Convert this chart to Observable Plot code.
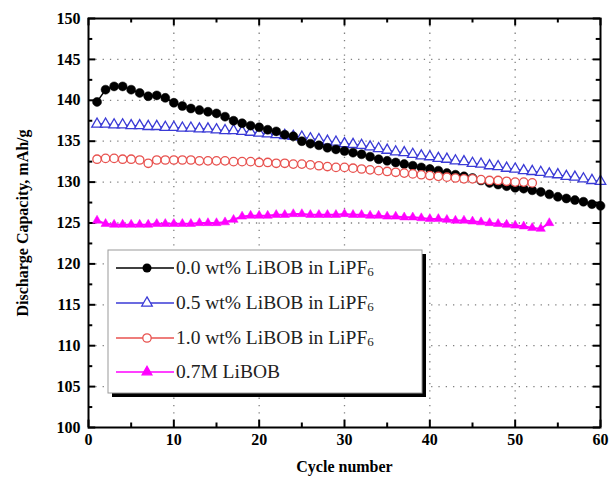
<!DOCTYPE html>
<html>
<head>
<meta charset="utf-8">
<script src="https://cdn.jsdelivr.net/npm/d3@7"></script>
<script src="https://cdn.jsdelivr.net/npm/@observablehq/plot@0.6"></script>
<style>
  html, body { margin: 0; padding: 0; background: white; }
</style>
</head>
<body>
<div id="chart"></div>
<script>
const seriesNames = ["0.0 wt% LiBOB in LiPF", "0.5 wt% LiBOB in LiPF", "1.0 wt% LiBOB in LiPF", "0.7M LiBOB"];
const seriesSub = ["6", "6", "6", ""];

const black00 = [139.8,141.3,141.7,141.7,141.3,140.9,140.5,140.6,140.3,139.7,
  139.3,139.0,138.8,138.6,138.4,138.0,137.5,137.2,136.9,136.7,
  136.4,136.2,135.8,135.6,135.0,134.7,134.5,134.2,134.0,133.8,
  133.6,133.4,133.1,132.8,132.6,132.4,132.2,132.0,131.8,131.6,
  131.4,131.1,130.9,130.7,130.5,130.2,129.9,129.7,129.5,129.3,
  129.2,129.0,128.8,128.5,128.2,128.0,127.8,127.6,127.3,127.1];
const blue05 = [137.1,137.1,137.0,137.0,136.9,136.9,136.8,136.8,136.7,136.7,
  136.6,136.6,136.5,136.5,136.4,136.3,136.3,136.2,136.1,136.0,
  135.9,135.8,135.7,135.6,135.5,135.3,135.2,135.0,134.9,134.7,
  134.6,134.5,134.3,134.1,133.9,133.7,133.6,133.4,133.2,133.1,
  132.9,132.8,132.6,132.5,132.3,132.2,132.0,131.9,131.7,131.6,
  131.4,131.3,131.2,131.0,130.9,130.7,130.6,130.4,130.2,130.1];
const red10 = [132.8,132.9,132.9,132.8,132.8,132.7,132.3,132.7,132.7,132.7,
  132.7,132.7,132.6,132.6,132.6,132.6,132.5,132.5,132.5,132.4,
  132.4,132.3,132.3,132.2,132.2,132.1,132.0,131.9,131.8,131.8,
  131.7,131.6,131.5,131.4,131.3,131.2,131.1,131.0,130.9,130.8,
  130.7,130.6,130.5,130.4,130.4,130.3,130.2,130.2,130.1,130.0,
  130.0,129.9];
const magenta07 = [125.3,124.9,124.8,124.8,124.8,124.8,124.8,124.9,124.9,124.9,
  124.9,124.9,125.0,125.0,125.0,125.1,125.4,125.8,125.9,125.9,
  125.9,126.0,126.0,126.1,126.1,126.0,126.0,126.0,126.0,126.1,
  126.0,126.0,125.9,125.9,125.8,125.8,125.7,125.7,125.6,125.5,
  125.5,125.4,125.3,125.3,125.2,125.1,125.0,124.9,124.8,124.7,
  124.6,124.4,124.3,125.0];

const xTicks = [0,10,20,30,40,50,60];
const xMinor = [5,15,25,35,45,55];
const yTicks = [100,105,110,115,120,125,130,135,140,145,150];
const yMinor = [102.5,107.5,112.5,117.5,122.5,127.5,132.5,137.5,142.5,147.5];
const xGrid = [10,20,30,40,50];
const yGrid = [105,110,115,120,125,130,135,140,145];

const toRows = arr => arr.map((v, i) => ({cycle: i + 1, cap: v}));
const dBlack = toRows(black00), dBlue = toRows(blue05), dRed = toRows(red10), dMag = toRows(magenta07);

const cBlack = "#000000", cBlue = "#3a3ad6", cRed = "#e8524f", cMag = "#ff00ff";
const gridStyle = {stroke: "#808080", strokeOpacity: 1, strokeWidth: 1.3, strokeDasharray: "1.3,6"};

const chart = Plot.plot({
  width: 609, height: 478,
  marginLeft: 88, marginRight: 9, marginTop: 18, marginBottom: 51,
  style: {fontFamily: "'Liberation Serif', 'DejaVu Serif', serif", background: "white", overflow: "visible"},
  x: {domain: [0, 60]},
  y: {domain: [100, 150]},
  marks: [
    Plot.ruleX(xGrid, gridStyle),
    Plot.ruleY(yGrid, gridStyle),
    // inward ticks
    Plot.ruleY(yTicks, {x1: 0, x2: 0.85, stroke: "black", strokeWidth: 2}),
    Plot.ruleY(yMinor, {x1: 0, x2: 0.5, stroke: "black", strokeWidth: 2}),
    Plot.ruleY(yTicks, {x1: 59.15, x2: 60, stroke: "black", strokeWidth: 2}),
    Plot.ruleY(yMinor, {x1: 59.5, x2: 60, stroke: "black", strokeWidth: 2}),
    Plot.ruleX(xTicks, {y1: 100, y2: 100.9, stroke: "black", strokeWidth: 2}),
    Plot.ruleX(xMinor, {y1: 100, y2: 100.55, stroke: "black", strokeWidth: 2}),
    Plot.ruleX(xTicks, {y1: 149.1, y2: 150, stroke: "black", strokeWidth: 2}),
    Plot.ruleX(xMinor, {y1: 149.45, y2: 150, stroke: "black", strokeWidth: 2}),
    // series
    Plot.line(dBlue, {x: "cycle", y: "cap", stroke: cBlue, strokeWidth: 1.3}),
    Plot.dot(dBlue, {x: "cycle", y: "cap", symbol: "triangle", r: 3.9, stroke: cBlue, strokeWidth: 1.3, fill: "white"}),
    Plot.line(dBlack, {x: "cycle", y: "cap", stroke: cBlack, strokeWidth: 1.5}),
    Plot.dot(dBlack, {x: "cycle", y: "cap", r: 4.5, fill: cBlack, stroke: cBlack, strokeWidth: 0.5}),
    Plot.line(dRed, {x: "cycle", y: "cap", stroke: cRed, strokeWidth: 1.3}),
    Plot.dot(dRed, {x: "cycle", y: "cap", r: 4.2, stroke: cRed, strokeWidth: 1.3, fill: "white"}),
    Plot.line(dMag, {x: "cycle", y: "cap", stroke: cMag, strokeWidth: 2}),
    Plot.dot(dMag, {x: "cycle", y: "cap", symbol: "triangle", r: 3.4, fill: cMag, stroke: cMag, strokeWidth: 0.5}),
    Plot.frame({stroke: "black", strokeWidth: 2}),
    Plot.axisY({ticks: yTicks, tickSize: 0, tickPadding: 8, fontSize: 16, fontWeight: "bold",
      label: "Discharge Capacity, mAh/g", labelAnchor: "center", labelArrow: "none", labelOffset: 72}),
    Plot.axisX({ticks: xTicks, tickSize: 0, tickPadding: 6, fontSize: 16, fontWeight: "bold",
      label: "Cycle number", labelAnchor: "center", labelArrow: "none", labelOffset: 44})
  ]
});

document.getElementById("chart").appendChild(chart);

// Legend drawn into the plot svg
const svg = d3.select(chart);
const lx = 108, ly = 250, lw = 314, lh = 143;
const lg = svg.append("g").attr("font-family", "'Liberation Serif', serif").attr("text-anchor", "start");
lg.append("rect").attr("x", lx + 4).attr("y", ly + 4).attr("width", lw).attr("height", lh).attr("fill", "black");
lg.append("rect").attr("x", lx).attr("y", ly).attr("width", lw).attr("height", lh).attr("fill", "white").attr("stroke", "#9a9a9a").attr("stroke-width", 1);
const colors = [cBlack, cBlue, cRed, cMag];
const rows = [268, 303, 338, 372];
seriesNames.forEach((name, i) => {
  const y = rows[i];
  lg.append("line").attr("x1", lx + 8).attr("x2", lx + 66).attr("y1", y).attr("y2", y).attr("stroke", colors[i]).attr("stroke-width", 1.6);
  const mx = lx + 39;
  if (i === 0) lg.append("circle").attr("cx", mx).attr("cy", y).attr("r", 4.5).attr("fill", "black");
  if (i === 2) lg.append("circle").attr("cx", mx).attr("cy", y).attr("r", 4.2).attr("fill", "white").attr("stroke", cRed).attr("stroke-width", 1.3);
  if (i === 1 || i === 3) {
    const rr = i === 1 ? 3.9 : 3.6;
    const s = d3.symbol(d3.symbolTriangle, Math.PI * rr * rr)();
    lg.append("path").attr("d", s).attr("transform", `translate(${mx},${y})`)
      .attr("fill", i === 1 ? "white" : cMag).attr("stroke", colors[i]).attr("stroke-width", 1.3);
  }
  const t = lg.append("text").attr("x", lx + 68).attr("y", y + 6).attr("font-size", 19.5).attr("fill", "#222").attr("text-anchor", "start").text(name);
  if (seriesSub[i]) t.append("tspan").attr("font-size", 13).attr("dy", 2).text(seriesSub[i]);
});
</script>
</body>
</html>
